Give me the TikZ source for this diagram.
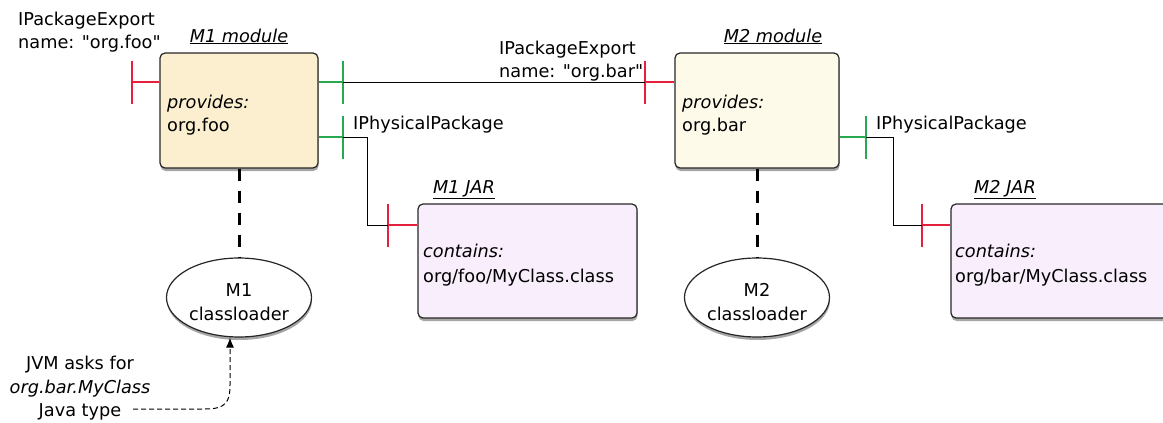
\documentclass[tikz,border=0pt]{standalone}
\usepackage{fontspec}
\setmainfont{DejaVu Sans}
\newfontfamily\qfont{DejaVu Sans}
\usetikzlibrary{shapes.geometric,shadows,arrows.meta}
\definecolor{mofill}{RGB}{251,239,207}
\definecolor{mtfill}{RGB}{254,250,234}
\definecolor{jarfill}{RGB}{248,238,252}
\definecolor{redc}{RGB}{230,32,60}
\definecolor{greenc}{RGB}{40,168,80}
\newcommand{\sq}{{\qfont\symbol{34}}}
\begin{document}
\begin{tikzpicture}[x=1pt,y=-1pt,
  every node/.style={inner sep=0pt, font=\fontsize{17.7}{24}\selectfont},
  shad/.style={drop shadow={shadow xshift=0.5pt, shadow yshift=-3pt, opacity=0.35, fill=black}},
  box/.style={draw=black!85, line width=1.2pt, rounded corners=5pt, shad},
  loader/.style={ellipse, draw=black!85, line width=1.2pt, fill=white, shad,
    minimum width=145pt, minimum height=79pt},
  bar/.style={rectangle, minimum width=2pt, minimum height=43pt, draw=none},
  redbar/.style={bar, fill=redc},
  greenbar/.style={bar, fill=greenc},
  redline/.style={draw=redc, line width=2pt},
  greenline/.style={draw=greenc, line width=2pt},
  blkline/.style={draw=black, line width=1pt},
  dep/.style={draw=black, line width=3pt, dash pattern=on 12pt off 10pt},
  tl/.style={anchor=base west},
  tc/.style={anchor=base}
]
\useasboundingbox (0,0) rectangle (1163,423);
\clip (0,0) rectangle (1163,423);

% boxes
\node[box, fill=mofill, minimum width=158pt, minimum height=115pt] (m1) at (239,110.5) {};
\node[box, fill=mtfill, minimum width=164pt, minimum height=115pt] (m2) at (757,110.5) {};
\node[box, fill=jarfill, minimum width=219pt, minimum height=114pt] (jar1) at (527.5,261) {};
\node[box, fill=jarfill, minimum width=219pt, minimum height=114pt] (jar2) at (1060.5,261) {};

% classloaders
\node[loader] (cl1) at (239,297.5) {};
\node[loader] (cl2) at (757,297.5) {};
\node[align=center] (cl1t) at (239,302.5) {M1\\classloader};
\node[align=center] (cl2t) at (757,302.5) {M2\\classloader};

% dependency lines
\draw[dep] (m1.south) -- (cl1.north);
\draw[dep] (m2.south) -- (cl2.north);

% bars
\node[redbar] (b1) at (132,82) {};
\node[greenbar] (g1) at (343,82) {};
\node[redbar] (r2) at (645,82) {};
\node[greenbar] (g2) at (343,137) {};
\node[redbar] (r3) at (388,225) {};
\node[greenbar] (g3) at (866,137) {};
\node[redbar] (r4) at (922,225) {};

% connectors
\draw[redline] (b1.center) -- (b1 -| m1.west);
\draw[greenline] (m1.east |- g1) -- (g1.center);
\draw[blkline] (g1.center) -- (r2.center);
\draw[redline] (r2.center) -- (r2 -| m2.west);
\draw[greenline] (m1.east |- g2) -- (g2.center);
\draw[blkline] (g2.center) -- ++(24,0) |- (r3.center);
\draw[redline] (r3.center) -- (r3 -| jar1.west);
\draw[greenline] (m2.east |- g3) -- (g3.center);
\draw[blkline] (g3.center) -- ++(27,0) |- (r4.center);
\draw[redline] (r4.center) -- (r4 -| jar2.west);

% box texts
\node[tl] (p1a) at (167,108) {\itshape provides:};
\node[tl] (p1b) at (167,131) {org.foo};
\node[tl] (p2a) at (682,108) {\itshape provides:};
\node[tl] (p2b) at (682,131) {org.bar};
\node[tl] (c1a) at (423,257) {\itshape contains:};
\node[tl] (c1b) at (423,282) {org/foo/MyClass.class};
\node[tl] (c2a) at (955,257) {\itshape contains:};
\node[tl] (c2b) at (955,282) {org/bar/MyClass.class};

% titles
\node[tc] (t1) at (239,42) {\underline{\textit{M1 module}}};
\node[tc] (t2) at (773,42) {\underline{\textit{M2 module}}};
\node[tc] (t3) at (464,193) {\underline{\textit{M1 JAR}}};
\node[tc] (t4) at (1005,193) {\underline{\textit{M2 JAR}}};

% interface labels
\node[tl] (e1a) at (18,25) {IPackageExport};
\node[tl] (e1b) at (18,48) {name: \sq org.foo\sq};
\node[tl] (e2a) at (499,54) {IPackageExport};
\node[tl] (e2b) at (499,77) {name: \sq org.bar\sq};
\node[tl] (pp1) at (353,129) {IPhysicalPackage};
\node[tl] (pp2) at (876,129) {IPhysicalPackage};

% JVM request
\node[tc] (j1) at (80,369) {JVM asks for};
\node[tc] (j2) at (80,393) {\itshape org.bar.MyClass};
\node[tc] (j3) at (80,416) {Java type};
\coordinate (ask) at (133,409);
\draw[black, line width=1pt, dash pattern=on 5pt off 3pt, -{Latex[length=10pt,width=8pt]}]
  (ask) -- (205,409) .. controls (226,409) and (230,402) .. (230,385) -- ([xshift=-9pt]cl1.south);
\end{tikzpicture}
\end{document}
